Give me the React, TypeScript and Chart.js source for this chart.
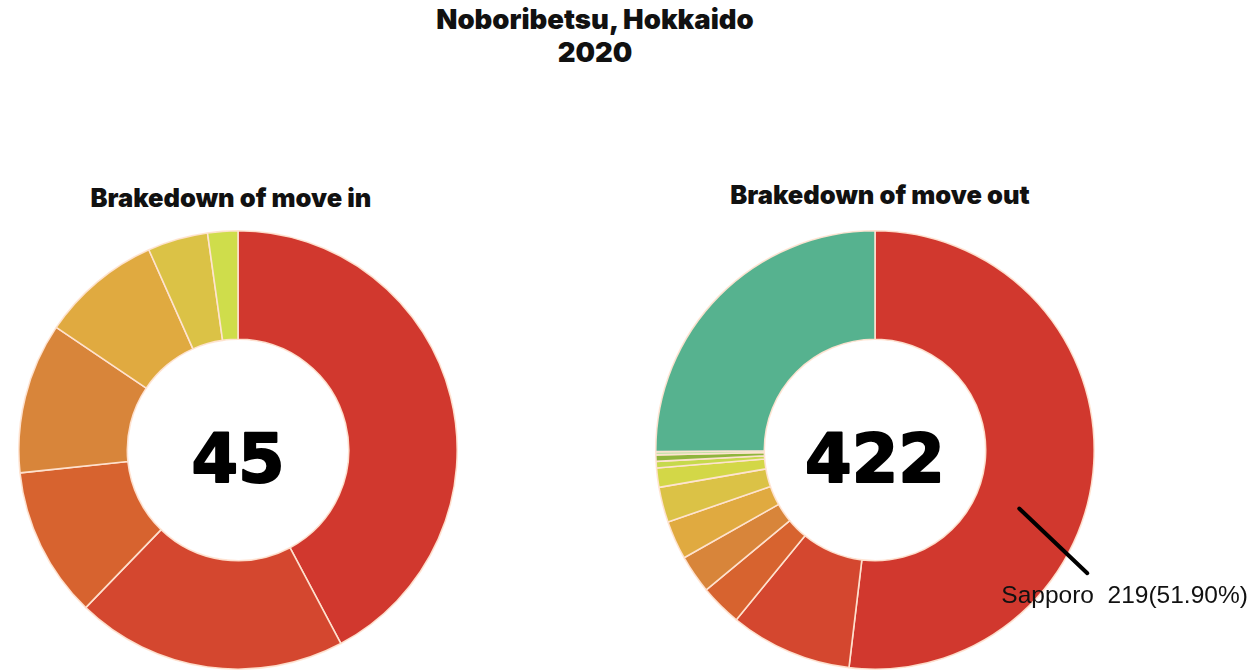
import React, { useEffect, useRef } from "react";
import { Chart, registerables } from "chart.js";

Chart.register(...registerables);

// ---- data ----
const mainTitle = ["Noboribetsu, Hokkaido", "2020"];
const moveInTitle = "Brakedown of move in";
const moveOutTitle = "Brakedown of move out";

const moveInLabels = ["Area 1", "Area 2", "Area 3", "Area 4", "Area 5", "Area 6", "Area 7"];
const moveInValues = [19, 9, 5, 5, 4, 2, 1];
const moveInColors = ["#d1382e", "#d4472f", "#d7632f", "#d8853a", "#e0aa40", "#dbc246", "#cfdd4b"];

const moveOutLabels = ["Sapporo", "Area 2", "Area 3", "Area 4", "Area 5", "Area 6", "Area 7", "Area 8", "Area 9", "Area 10", "Area 11"];
const moveOutValues = [219, 38, 13, 12, 12, 11, 6, 2, 2, 1, 106];
const moveOutColors = ["#d1382e", "#d4472f", "#d7632f", "#d8853a", "#e0aa40", "#dbc246", "#d3d747", "#c6d94c", "#8fb53c", "#bfe3a6", "#56b28f"];

const calloutIndex = 0;

const sliceBorder = "rgba(255,228,210,0.95)";

const centerTextPlugin = {
  id: "centerText",
  afterDatasetsDraw(chart: any) {
    const meta = chart.getDatasetMeta(0);
    const arc = meta.data[0];
    if (!arc) return;
    const total = (chart.data.datasets[0].data as number[]).reduce((a, b) => a + b, 0);
    const ctx = chart.ctx;
    ctx.save();
    ctx.fillStyle = "#000";
    ctx.strokeStyle = "#000";
    ctx.lineWidth = 2;
    ctx.lineJoin = "round";
    ctx.font = "bold 67px 'DejaVu Sans'";
    ctx.textAlign = "center";
    ctx.textBaseline = "alphabetic";
    ctx.fillText(String(total), arc.x, arc.y + 32);
    ctx.strokeText(String(total), arc.x, arc.y + 32);
    ctx.restore();
  },
};

const calloutPlugin = {
  id: "callout",
  afterDatasetsDraw(chart: any, _args: any, opts: any) {
    if (!opts || opts.index === undefined || opts.index < 0) return;
    const meta = chart.getDatasetMeta(0);
    const arc: any = meta.data[opts.index];
    if (!arc) return;
    const values = chart.data.datasets[0].data as number[];
    const total = values.reduce((a, b) => a + b, 0);
    const v = values[opts.index];
    const label = chart.data.labels[opts.index];
    const { x, y, startAngle, endAngle, outerRadius } = arc.getProps(["x", "y", "startAngle", "endAngle", "outerRadius"], true);
    const a1 = startAngle + (endAngle - startAngle) * 0.6;
    const a2 = startAngle + (endAngle - startAngle) * 0.643;
    const r1 = outerRadius * 0.71;
    const r2 = outerRadius * 1.12;
    const p1 = { x: x + Math.cos(a1) * r1, y: y + Math.sin(a1) * r1 };
    const p2 = { x: x + Math.cos(a2) * r2, y: y + Math.sin(a2) * r2 };
    const ctx = chart.ctx;
    ctx.save();
    ctx.strokeStyle = "#000";
    ctx.lineWidth = 4;
    ctx.lineCap = "round";
    ctx.beginPath();
    ctx.moveTo(p1.x, p1.y);
    ctx.lineTo(p2.x, p2.y);
    ctx.stroke();
    ctx.fillStyle = "#111";
    ctx.font = "24.5px 'Liberation Sans'";
    ctx.textAlign = "left";
    ctx.textBaseline = "alphabetic";
    ctx.fillText(`${label}  ${v}(${((v / total) * 100).toFixed(2)}%)`, p2.x - 86, p2.y + 30);
    ctx.restore();
  },
};

function makeConfig(labels: string[], values: number[], colors: string[], padRight: number, callout: number) {
  return {
    type: "doughnut" as const,
    data: {
      labels,
      datasets: [
        {
          data: values,
          backgroundColor: colors,
          borderColor: sliceBorder,
          borderWidth: 1.6,
        },
      ],
    },
    options: {
      responsive: false,
      animation: false as const,
      cutout: "50.5%",
      layout: { padding: { top: 0, left: 0, bottom: 0, right: padRight } },
      plugins: {
        legend: { display: false },
        tooltip: { enabled: false },
        title: { display: false },
        callout: { index: callout },
      },
    },
    plugins: [centerTextPlugin, calloutPlugin],
  };
}

const headingFont = "Inter, 'Liberation Sans', sans-serif";

export default function App() {
  const leftRef = useRef<HTMLCanvasElement>(null);
  const rightRef = useRef<HTMLCanvasElement>(null);

  useEffect(() => {
    const c1 = new Chart(leftRef.current as HTMLCanvasElement, makeConfig(moveInLabels, moveInValues, moveInColors, 0, -1) as any);
    const c2 = new Chart(rightRef.current as HTMLCanvasElement, makeConfig(moveOutLabels, moveOutValues, moveOutColors, 159, calloutIndex) as any);
    return () => {
      c1.destroy();
      c2.destroy();
    };
  }, []);

  return (
    <div style={{ position: "absolute", left: 0, top: 0, width: 1254, height: 672, background: "#fff", overflow: "hidden" }}>
      <div
        style={{
          position: "absolute",
          left: 0,
          top: 3,
          width: 1190,
          textAlign: "center",
          fontFamily: headingFont,
          fontWeight: 900,
          fontSize: 27.5,
          lineHeight: "33px",
          color: "#111",
        }}
      >
        {mainTitle.map((t) => (
          <div key={t}>{t}</div>
        ))}
      </div>
      <div
        style={{
          position: "absolute",
          left: 31,
          top: 183,
          width: 400,
          textAlign: "center",
          fontFamily: headingFont,
          fontWeight: 900,
          fontSize: 25.5,
          lineHeight: "30px",
          color: "#111",
        }}
      >
        {moveInTitle}
      </div>
      <div
        style={{
          position: "absolute",
          left: 680,
          top: 180,
          width: 400,
          textAlign: "center",
          fontFamily: headingFont,
          fontWeight: 900,
          fontSize: 25.5,
          lineHeight: "30px",
          color: "#111",
        }}
      >
        {moveOutTitle}
      </div>
      <canvas
        ref={leftRef}
        width={440}
        height={440}
        style={{ position: "absolute", left: 18, top: 230, width: 440, height: 440 }}
      />
      <canvas
        ref={rightRef}
        width={599}
        height={440}
        style={{ position: "absolute", left: 655, top: 230, width: 599, height: 440 }}
      />
    </div>
  );
}
